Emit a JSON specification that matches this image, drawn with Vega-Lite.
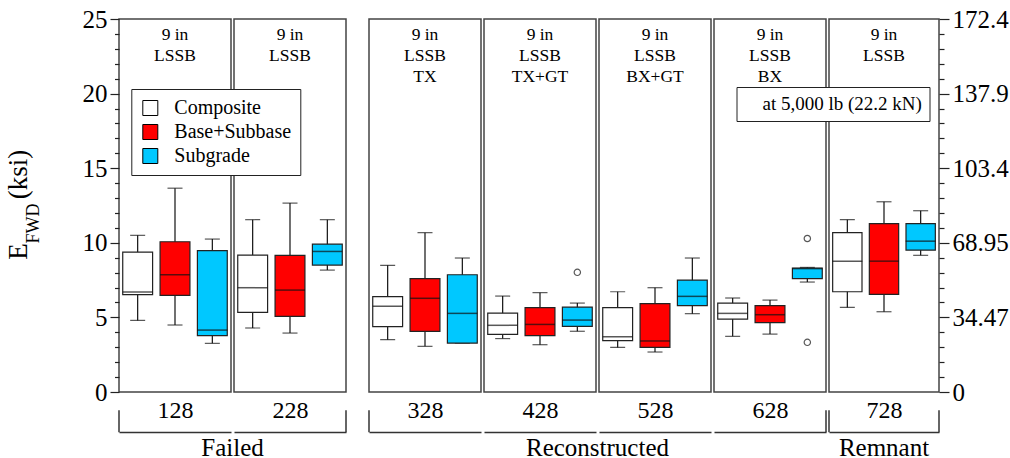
{
  "$schema": "https://vega.github.io/schema/vega-lite/v6.json",
  "padding": {"left": 3, "top": 6, "right": 2, "bottom": 0},
  "config": {
    "font": "Liberation Serif",
    "view": {"stroke": "#444", "strokeWidth": 1.5},
    "axis": {"grid": false, "labelFont": "Liberation Serif", "titleFont": "Liberation Serif"},
    "legend": {"labelFont": "Liberation Serif", "titleFont": "Liberation Serif"},
    "text": {"font": "Liberation Serif"},
    "mark": {"font": "Liberation Serif"}
  },
  "datasets": {
    "stats": [
      {"panel": "128", "layer": "Composite", "min": 4.80, "q1": 6.52, "median": 6.70, "q3": 9.38, "max": 10.50},
      {"panel": "128", "layer": "Base+Subbase", "min": 4.49, "q1": 6.48, "median": 7.86, "q3": 10.07, "max": 13.66},
      {"panel": "128", "layer": "Subgrade", "min": 3.26, "q1": 3.78, "median": 4.15, "q3": 9.47, "max": 10.25},
      {"panel": "228", "layer": "Composite", "min": 4.29, "q1": 5.34, "median": 6.99, "q3": 9.18, "max": 11.55},
      {"panel": "228", "layer": "Base+Subbase", "min": 3.95, "q1": 5.07, "median": 6.83, "q3": 9.16, "max": 12.66},
      {"panel": "228", "layer": "Subgrade", "min": 8.17, "q1": 8.51, "median": 9.42, "q3": 9.91, "max": 11.55},
      {"panel": "328", "layer": "Composite", "min": 3.51, "q1": 4.38, "median": 5.74, "q3": 6.39, "max": 8.49},
      {"panel": "328", "layer": "Base+Subbase", "min": 3.06, "q1": 4.07, "median": 6.28, "q3": 7.60, "max": 10.68},
      {"panel": "328", "layer": "Subgrade", "min": 3.28, "q1": 3.28, "median": 5.27, "q3": 7.86, "max": 8.98},
      {"panel": "428", "layer": "Composite", "min": 3.58, "q1": 3.86, "median": 4.47, "q3": 5.29, "max": 6.43},
      {"panel": "428", "layer": "Base+Subbase", "min": 3.17, "q1": 3.78, "median": 4.53, "q3": 5.65, "max": 6.66},
      {"panel": "428", "layer": "Subgrade", "min": 4.07, "q1": 4.40, "median": 4.82, "q3": 5.69, "max": 5.96},
      {"panel": "528", "layer": "Composite", "min": 2.99, "q1": 3.44, "median": 3.71, "q3": 5.65, "max": 6.72},
      {"panel": "528", "layer": "Base+Subbase", "min": 2.68, "q1": 2.99, "median": 3.42, "q3": 5.92, "max": 6.99},
      {"panel": "528", "layer": "Subgrade", "min": 5.25, "q1": 5.79, "median": 6.41, "q3": 7.50, "max": 8.98},
      {"panel": "628", "layer": "Composite", "min": 3.73, "q1": 4.89, "median": 5.27, "q3": 5.96, "max": 6.30},
      {"panel": "628", "layer": "Base+Subbase", "min": 3.88, "q1": 4.65, "median": 5.18, "q3": 5.79, "max": 6.16},
      {"panel": "628", "layer": "Subgrade", "min": 7.37, "q1": 7.60, "median": 8.27, "q3": 8.31, "max": 8.35},
      {"panel": "728", "layer": "Composite", "min": 5.67, "q1": 6.72, "median": 8.77, "q3": 10.68, "max": 11.55},
      {"panel": "728", "layer": "Base+Subbase", "min": 5.38, "q1": 6.54, "median": 8.77, "q3": 11.28, "max": 12.75},
      {"panel": "728", "layer": "Subgrade", "min": 9.16, "q1": 9.51, "median": 10.11, "q3": 11.28, "max": 12.15}
    ],
    "outliers": [
      {"panel": "428", "layer": "Subgrade", "value": 8.02},
      {"panel": "628", "layer": "Subgrade", "value": 10.29},
      {"panel": "628", "layer": "Subgrade", "value": 3.33}
    ],
    "panels": [
      {"panel": "128", "label": "9 in\nLSSB", "group": "Failed"},
      {"panel": "228", "label": "9 in\nLSSB", "group": "Failed"},
      {"panel": "328", "label": "9 in\nLSSB\nTX", "group": "Reconstructed"},
      {"panel": "428", "label": "9 in\nLSSB\nTX+GT", "group": "Reconstructed"},
      {"panel": "528", "label": "9 in\nLSSB\nBX+GT", "group": "Reconstructed"},
      {"panel": "628", "label": "9 in\nLSSB\nBX", "group": "Reconstructed"},
      {"panel": "728", "label": "9 in\nLSSB", "group": "Remnant"}
    ]
  },
  "bounds": "flush",
  "spacing": 3,
  "hconcat": [
    {
      "width": 112, "height": 373,
      "resolve": {"axis": {"y": "independent"}},
      "layer": [
        {"data": {"name": "stats"}, "transform": [{"filter": "datum.panel === '128'"}],
         "mark": {"type": "rule", "color": "#111", "strokeWidth": 1.2},
         "encoding": {
           "x": {"field": "layer", "type": "nominal", "scale": {"domain": ["Composite", "Base+Subbase", "Subgrade"], "paddingInner": 0, "paddingOuter": 0},
                 "axis": {"orient": "bottom", "offset": 40, "domain": true, "domainColor": "#333", "domainWidth": 1.5, "ticks": false, "labels": false, "title": "128", "titleFontSize": 24, "titleFontWeight": "normal", "titleColor": "black", "titleY": -14.7, "titleBaseline": "alphabetic"}},
           "y": {"field": "min", "type": "quantitative", "scale": {"domain": [0, 25], "nice": false, "zero": false},
                 "axis": {"orient": "left", "values": [0,1,2,3,4,5,6,7,8,9,10,11,12,13,14,15,16,17,18,19,20,21,22,23,24,25], "labelExpr": "datum.value % 5 === 0 ? datum.label : ''", "tickSize": {"condition": {"test": "datum.value % 5 === 0", "value": 9}, "value": 4.5}, "tickColor": "#222", "tickWidth": 1.2, "domain": false, "labelFontSize": 25, "labelColor": "black", "labelPadding": 3, "labelOverlap": false, "labelFlush": false, "labelBound": false, "title": "E", "titleFontSize": 27, "titleFontWeight": "normal", "titleColor": "black", "titleAngle": 270, "titleX": -92.7, "titleY": 232, "titleAlign": "center", "titleBaseline": "alphabetic"}},
           "y2": {"field": "max"}
         }},
        {"data": {"name": "stats"}, "transform": [{"filter": "datum.panel === '128'"}],
         "mark": {"type": "tick", "size": 15, "thickness": 1.2, "color": "#111"},
         "encoding": {"x": {"field": "layer", "type": "nominal"}, "y": {"field": "min", "type": "quantitative", "axis": null}}},
        {"data": {"name": "stats"}, "transform": [{"filter": "datum.panel === '128'"}],
         "mark": {"type": "tick", "size": 15, "thickness": 1.2, "color": "#111"},
         "encoding": {"x": {"field": "layer", "type": "nominal"}, "y": {"field": "max", "type": "quantitative", "axis": null}}},
        {"data": {"name": "stats"}, "transform": [{"filter": "datum.panel === '128'"}],
         "mark": {"type": "bar", "width": {"band": 0.8}, "stroke": "#222", "strokeWidth": 1.2, "opacity": 1},
         "encoding": {
           "x": {"field": "layer", "type": "nominal"},
           "y": {"field": "q1", "type": "quantitative",
                 "axis": {"orient": "left", "ticks": false, "labels": false, "domain": false, "title": "FWD", "titleFontSize": 18, "titleFontWeight": "normal", "titleColor": "black", "titleAngle": 270, "titleX": -80.7, "titleY": 204, "titleAlign": "center", "titleBaseline": "alphabetic"}},
           "y2": {"field": "q3"},
           "color": {"field": "layer", "type": "nominal", "scale": {"domain": ["Composite", "Base+Subbase", "Subgrade"], "range": ["#ffffff", "#ff0000", "#00c8ff"]},
                     "legend": {"orient": "none", "legendX": 12.3, "legendY": 70, "title": null, "fillColor": "white", "strokeColor": "#222", "padding": 9, "symbolType": "square", "symbolSize": 225, "symbolStrokeColor": "black", "symbolStrokeWidth": 1, "symbolOpacity": 1, "labelFont": "Liberation Serif", "labelFontSize": 20, "labelColor": "black", "labelOffset": 14, "rowPadding": 4}}
         }},
        {"data": {"name": "stats"}, "transform": [{"filter": "datum.panel === '128'"}],
         "mark": {"type": "tick", "size": 30, "thickness": 1.5, "color": "#111"},
         "encoding": {"x": {"field": "layer", "type": "nominal"},
           "y": {"field": "median", "type": "quantitative",
                 "axis": {"orient": "left", "ticks": false, "labels": false, "domain": false, "title": "(ksi)", "titleFontSize": 27, "titleFontWeight": "normal", "titleColor": "black", "titleAngle": 270, "titleX": -92.7, "titleY": 155, "titleAlign": "center", "titleBaseline": "alphabetic"}}}},
        {"data": {"name": "panels"}, "transform": [{"filter": "datum.panel === '128'"}],
         "mark": {"type": "text", "font": "Liberation Serif", "fontSize": 17.5, "baseline": "alphabetic", "lineBreak": "\n", "lineHeight": 21.3, "color": "black"},
         "encoding": {"x": {"datum": "Base+Subbase", "bandPosition": 0.5}, "y": {"datum": 23.6, "axis": null}, "text": {"field": "label"}}},
        {"data": {"name": "panels"}, "transform": [{"filter": "datum.panel === '128'"}],
         "mark": {"type": "rule", "color": "#333", "strokeWidth": 1.5},
         "encoding": {"x": {"datum": "Composite", "bandPosition": 0}, "y": {"datum": -1.23, "axis": null}, "y2": {"datum": -2.7}}},
        {"data": {"name": "panels"}, "transform": [{"filter": "datum.panel === '128'"}],
         "mark": {"type": "text", "font": "Liberation Serif", "fontSize": 25, "baseline": "alphabetic", "dx": 1.5, "color": "black"},
         "encoding": {"x": {"datum": "Subgrade", "bandPosition": 1}, "y": {"datum": -4.3, "axis": null}, "text": {"field": "group"}}}
      ]
    },
    {
      "width": 112, "height": 373,
      "layer": [
        {"data": {"name": "stats"}, "transform": [{"filter": "datum.panel === '228'"}],
         "mark": {"type": "rule", "color": "#111", "strokeWidth": 1.2},
         "encoding": {
           "x": {"field": "layer", "type": "nominal", "scale": {"domain": ["Composite", "Base+Subbase", "Subgrade"], "paddingInner": 0, "paddingOuter": 0},
                 "axis": {"orient": "bottom", "offset": 40, "domain": true, "domainColor": "#333", "domainWidth": 1.5, "ticks": false, "labels": false, "title": "228", "titleFontSize": 24, "titleFontWeight": "normal", "titleColor": "black", "titleY": -14.7, "titleBaseline": "alphabetic"}},
           "y": {"field": "min", "type": "quantitative", "scale": {"domain": [0, 25], "nice": false, "zero": false}, "axis": null},
           "y2": {"field": "max"}
         }},
        {"data": {"name": "stats"}, "transform": [{"filter": "datum.panel === '228'"}],
         "mark": {"type": "tick", "size": 15, "thickness": 1.2, "color": "#111"},
         "encoding": {"x": {"field": "layer", "type": "nominal"}, "y": {"field": "min", "type": "quantitative", "axis": null}}},
        {"data": {"name": "stats"}, "transform": [{"filter": "datum.panel === '228'"}],
         "mark": {"type": "tick", "size": 15, "thickness": 1.2, "color": "#111"},
         "encoding": {"x": {"field": "layer", "type": "nominal"}, "y": {"field": "max", "type": "quantitative", "axis": null}}},
        {"data": {"name": "stats"}, "transform": [{"filter": "datum.panel === '228'"}],
         "mark": {"type": "bar", "width": {"band": 0.8}, "stroke": "#222", "strokeWidth": 1.2, "opacity": 1},
         "encoding": {"x": {"field": "layer", "type": "nominal"}, "y": {"field": "q1", "type": "quantitative", "axis": null}, "y2": {"field": "q3"},
           "color": {"field": "layer", "type": "nominal", "legend": null}}},
        {"data": {"name": "stats"}, "transform": [{"filter": "datum.panel === '228'"}],
         "mark": {"type": "tick", "size": 30, "thickness": 1.5, "color": "#111"},
         "encoding": {"x": {"field": "layer", "type": "nominal"}, "y": {"field": "median", "type": "quantitative", "axis": null}}},
        {"data": {"name": "panels"}, "transform": [{"filter": "datum.panel === '228'"}],
         "mark": {"type": "text", "font": "Liberation Serif", "fontSize": 17.5, "baseline": "alphabetic", "lineBreak": "\n", "lineHeight": 21.3, "color": "black"},
         "encoding": {"x": {"datum": "Base+Subbase", "bandPosition": 0.5}, "y": {"datum": 23.6, "axis": null}, "text": {"field": "label"}}},
        {"data": {"name": "panels"}, "transform": [{"filter": "datum.panel === '228'"}],
         "mark": {"type": "rule", "color": "#333", "strokeWidth": 1.5},
         "encoding": {"x": {"datum": "Subgrade", "bandPosition": 1}, "y": {"datum": -1.23, "axis": null}, "y2": {"datum": -2.7}}}
      ]
    },
    {
      "width": 16.6, "height": 373,
      "view": {"stroke": null},
      "data": {"values": [{}]},
      "mark": {"type": "text", "text": ""},
      "encoding": {}
    },
    {
      "width": 112, "height": 373,
      "layer": [
        {"data": {"name": "stats"}, "transform": [{"filter": "datum.panel === '328'"}],
         "mark": {"type": "rule", "color": "#111", "strokeWidth": 1.2},
         "encoding": {
           "x": {"field": "layer", "type": "nominal", "scale": {"domain": ["Composite", "Base+Subbase", "Subgrade"], "paddingInner": 0, "paddingOuter": 0},
                 "axis": {"orient": "bottom", "offset": 40, "domain": true, "domainColor": "#333", "domainWidth": 1.5, "ticks": false, "labels": false, "title": "328", "titleFontSize": 24, "titleFontWeight": "normal", "titleColor": "black", "titleY": -14.7, "titleBaseline": "alphabetic"}},
           "y": {"field": "min", "type": "quantitative", "scale": {"domain": [0, 25], "nice": false, "zero": false}, "axis": null},
           "y2": {"field": "max"}
         }},
        {"data": {"name": "stats"}, "transform": [{"filter": "datum.panel === '328'"}],
         "mark": {"type": "tick", "size": 15, "thickness": 1.2, "color": "#111"},
         "encoding": {"x": {"field": "layer", "type": "nominal"}, "y": {"field": "min", "type": "quantitative", "axis": null}}},
        {"data": {"name": "stats"}, "transform": [{"filter": "datum.panel === '328'"}],
         "mark": {"type": "tick", "size": 15, "thickness": 1.2, "color": "#111"},
         "encoding": {"x": {"field": "layer", "type": "nominal"}, "y": {"field": "max", "type": "quantitative", "axis": null}}},
        {"data": {"name": "stats"}, "transform": [{"filter": "datum.panel === '328'"}],
         "mark": {"type": "bar", "width": {"band": 0.8}, "stroke": "#222", "strokeWidth": 1.2, "opacity": 1},
         "encoding": {"x": {"field": "layer", "type": "nominal"}, "y": {"field": "q1", "type": "quantitative", "axis": null}, "y2": {"field": "q3"},
           "color": {"field": "layer", "type": "nominal", "legend": null}}},
        {"data": {"name": "stats"}, "transform": [{"filter": "datum.panel === '328'"}],
         "mark": {"type": "tick", "size": 30, "thickness": 1.5, "color": "#111"},
         "encoding": {"x": {"field": "layer", "type": "nominal"}, "y": {"field": "median", "type": "quantitative", "axis": null}}},
        {"data": {"name": "panels"}, "transform": [{"filter": "datum.panel === '328'"}],
         "mark": {"type": "text", "font": "Liberation Serif", "fontSize": 17.5, "baseline": "alphabetic", "lineBreak": "\n", "lineHeight": 21.3, "color": "black"},
         "encoding": {"x": {"datum": "Base+Subbase", "bandPosition": 0.5}, "y": {"datum": 23.6, "axis": null}, "text": {"field": "label"}}},
        {"data": {"name": "panels"}, "transform": [{"filter": "datum.panel === '328'"}],
         "mark": {"type": "rule", "color": "#333", "strokeWidth": 1.5},
         "encoding": {"x": {"datum": "Composite", "bandPosition": 0}, "y": {"datum": -1.23, "axis": null}, "y2": {"datum": -2.7}}}
      ]
    },
    {
      "width": 112, "height": 373,
      "layer": [
        {"data": {"name": "stats"}, "transform": [{"filter": "datum.panel === '428'"}],
         "mark": {"type": "rule", "color": "#111", "strokeWidth": 1.2},
         "encoding": {
           "x": {"field": "layer", "type": "nominal", "scale": {"domain": ["Composite", "Base+Subbase", "Subgrade"], "paddingInner": 0, "paddingOuter": 0},
                 "axis": {"orient": "bottom", "offset": 40, "domain": true, "domainColor": "#333", "domainWidth": 1.5, "ticks": false, "labels": false, "title": "428", "titleFontSize": 24, "titleFontWeight": "normal", "titleColor": "black", "titleY": -14.7, "titleBaseline": "alphabetic"}},
           "y": {"field": "min", "type": "quantitative", "scale": {"domain": [0, 25], "nice": false, "zero": false}, "axis": null},
           "y2": {"field": "max"}
         }},
        {"data": {"name": "stats"}, "transform": [{"filter": "datum.panel === '428'"}],
         "mark": {"type": "tick", "size": 15, "thickness": 1.2, "color": "#111"},
         "encoding": {"x": {"field": "layer", "type": "nominal"}, "y": {"field": "min", "type": "quantitative", "axis": null}}},
        {"data": {"name": "stats"}, "transform": [{"filter": "datum.panel === '428'"}],
         "mark": {"type": "tick", "size": 15, "thickness": 1.2, "color": "#111"},
         "encoding": {"x": {"field": "layer", "type": "nominal"}, "y": {"field": "max", "type": "quantitative", "axis": null}}},
        {"data": {"name": "stats"}, "transform": [{"filter": "datum.panel === '428'"}],
         "mark": {"type": "bar", "width": {"band": 0.8}, "stroke": "#222", "strokeWidth": 1.2, "opacity": 1},
         "encoding": {"x": {"field": "layer", "type": "nominal"}, "y": {"field": "q1", "type": "quantitative", "axis": null}, "y2": {"field": "q3"},
           "color": {"field": "layer", "type": "nominal", "legend": null}}},
        {"data": {"name": "stats"}, "transform": [{"filter": "datum.panel === '428'"}],
         "mark": {"type": "tick", "size": 30, "thickness": 1.5, "color": "#111"},
         "encoding": {"x": {"field": "layer", "type": "nominal"}, "y": {"field": "median", "type": "quantitative", "axis": null}}},
        {"data": {"name": "outliers"}, "transform": [{"filter": "datum.panel === '428'"}],
         "mark": {"type": "point", "filled": false, "stroke": "#111", "strokeWidth": 1.2, "size": 40},
         "encoding": {"x": {"field": "layer", "type": "nominal"}, "y": {"field": "value", "type": "quantitative", "axis": null}}},
        {"data": {"name": "panels"}, "transform": [{"filter": "datum.panel === '428'"}],
         "mark": {"type": "text", "font": "Liberation Serif", "fontSize": 17.5, "baseline": "alphabetic", "lineBreak": "\n", "lineHeight": 21.3, "color": "black"},
         "encoding": {"x": {"datum": "Base+Subbase", "bandPosition": 0.5}, "y": {"datum": 23.6, "axis": null}, "text": {"field": "label"}}},
        {"data": {"name": "panels"}, "transform": [{"filter": "datum.panel === '428'"}],
         "mark": {"type": "text", "font": "Liberation Serif", "fontSize": 25, "baseline": "alphabetic", "dx": 1.5, "color": "black"},
         "encoding": {"x": {"datum": "Subgrade", "bandPosition": 1}, "y": {"datum": -4.3, "axis": null}, "text": {"field": "group"}}}
      ]
    },
    {
      "width": 112, "height": 373,
      "layer": [
        {"data": {"name": "stats"}, "transform": [{"filter": "datum.panel === '528'"}],
         "mark": {"type": "rule", "color": "#111", "strokeWidth": 1.2},
         "encoding": {
           "x": {"field": "layer", "type": "nominal", "scale": {"domain": ["Composite", "Base+Subbase", "Subgrade"], "paddingInner": 0, "paddingOuter": 0},
                 "axis": {"orient": "bottom", "offset": 40, "domain": true, "domainColor": "#333", "domainWidth": 1.5, "ticks": false, "labels": false, "title": "528", "titleFontSize": 24, "titleFontWeight": "normal", "titleColor": "black", "titleY": -14.7, "titleBaseline": "alphabetic"}},
           "y": {"field": "min", "type": "quantitative", "scale": {"domain": [0, 25], "nice": false, "zero": false}, "axis": null},
           "y2": {"field": "max"}
         }},
        {"data": {"name": "stats"}, "transform": [{"filter": "datum.panel === '528'"}],
         "mark": {"type": "tick", "size": 15, "thickness": 1.2, "color": "#111"},
         "encoding": {"x": {"field": "layer", "type": "nominal"}, "y": {"field": "min", "type": "quantitative", "axis": null}}},
        {"data": {"name": "stats"}, "transform": [{"filter": "datum.panel === '528'"}],
         "mark": {"type": "tick", "size": 15, "thickness": 1.2, "color": "#111"},
         "encoding": {"x": {"field": "layer", "type": "nominal"}, "y": {"field": "max", "type": "quantitative", "axis": null}}},
        {"data": {"name": "stats"}, "transform": [{"filter": "datum.panel === '528'"}],
         "mark": {"type": "bar", "width": {"band": 0.8}, "stroke": "#222", "strokeWidth": 1.2, "opacity": 1},
         "encoding": {"x": {"field": "layer", "type": "nominal"}, "y": {"field": "q1", "type": "quantitative", "axis": null}, "y2": {"field": "q3"},
           "color": {"field": "layer", "type": "nominal", "legend": null}}},
        {"data": {"name": "stats"}, "transform": [{"filter": "datum.panel === '528'"}],
         "mark": {"type": "tick", "size": 30, "thickness": 1.5, "color": "#111"},
         "encoding": {"x": {"field": "layer", "type": "nominal"}, "y": {"field": "median", "type": "quantitative", "axis": null}}},
        {"data": {"name": "panels"}, "transform": [{"filter": "datum.panel === '528'"}],
         "mark": {"type": "text", "font": "Liberation Serif", "fontSize": 17.5, "baseline": "alphabetic", "lineBreak": "\n", "lineHeight": 21.3, "color": "black"},
         "encoding": {"x": {"datum": "Base+Subbase", "bandPosition": 0.5}, "y": {"datum": 23.6, "axis": null}, "text": {"field": "label"}}}
      ]
    },
    {
      "width": 112, "height": 373,
      "layer": [
        {"data": {"name": "stats"}, "transform": [{"filter": "datum.panel === '628'"}],
         "mark": {"type": "rule", "color": "#111", "strokeWidth": 1.2},
         "encoding": {
           "x": {"field": "layer", "type": "nominal", "scale": {"domain": ["Composite", "Base+Subbase", "Subgrade"], "paddingInner": 0, "paddingOuter": 0},
                 "axis": {"orient": "bottom", "offset": 40, "domain": true, "domainColor": "#333", "domainWidth": 1.5, "ticks": false, "labels": false, "title": "628", "titleFontSize": 24, "titleFontWeight": "normal", "titleColor": "black", "titleY": -14.7, "titleBaseline": "alphabetic"}},
           "y": {"field": "min", "type": "quantitative", "scale": {"domain": [0, 25], "nice": false, "zero": false}, "axis": null},
           "y2": {"field": "max"}
         }},
        {"data": {"name": "stats"}, "transform": [{"filter": "datum.panel === '628'"}],
         "mark": {"type": "tick", "size": 15, "thickness": 1.2, "color": "#111"},
         "encoding": {"x": {"field": "layer", "type": "nominal"}, "y": {"field": "min", "type": "quantitative", "axis": null}}},
        {"data": {"name": "stats"}, "transform": [{"filter": "datum.panel === '628'"}],
         "mark": {"type": "tick", "size": 15, "thickness": 1.2, "color": "#111"},
         "encoding": {"x": {"field": "layer", "type": "nominal"}, "y": {"field": "max", "type": "quantitative", "axis": null}}},
        {"data": {"name": "stats"}, "transform": [{"filter": "datum.panel === '628'"}],
         "mark": {"type": "bar", "width": {"band": 0.8}, "stroke": "#222", "strokeWidth": 1.2, "opacity": 1},
         "encoding": {"x": {"field": "layer", "type": "nominal"}, "y": {"field": "q1", "type": "quantitative", "axis": null}, "y2": {"field": "q3"},
           "color": {"field": "layer", "type": "nominal", "legend": null}}},
        {"data": {"name": "stats"}, "transform": [{"filter": "datum.panel === '628'"}],
         "mark": {"type": "tick", "size": 30, "thickness": 1.5, "color": "#111"},
         "encoding": {"x": {"field": "layer", "type": "nominal"}, "y": {"field": "median", "type": "quantitative", "axis": null}}},
        {"data": {"name": "outliers"}, "transform": [{"filter": "datum.panel === '628'"}],
         "mark": {"type": "point", "filled": false, "stroke": "#111", "strokeWidth": 1.2, "size": 40},
         "encoding": {"x": {"field": "layer", "type": "nominal"}, "y": {"field": "value", "type": "quantitative", "axis": null}}},
        {"data": {"name": "panels"}, "transform": [{"filter": "datum.panel === '628'"}],
         "mark": {"type": "text", "font": "Liberation Serif", "fontSize": 17.5, "baseline": "alphabetic", "lineBreak": "\n", "lineHeight": 21.3, "color": "black"},
         "encoding": {"x": {"datum": "Base+Subbase", "bandPosition": 0.5}, "y": {"datum": 23.6, "axis": null}, "text": {"field": "label"}}},
        {"data": {"name": "panels"}, "transform": [{"filter": "datum.panel === '628'"}],
         "mark": {"type": "rule", "color": "#333", "strokeWidth": 1.5},
         "encoding": {"x": {"datum": "Subgrade", "bandPosition": 1}, "y": {"datum": -1.23, "axis": null}, "y2": {"datum": -2.7}}}
      ]
    },
    {
      "width": 110, "height": 373,
      "resolve": {"axis": {"y": "independent"}},
      "layer": [
        {"data": {"name": "stats"}, "transform": [{"filter": "datum.panel === '728'"}],
         "mark": {"type": "rule", "color": "#111", "strokeWidth": 1.2},
         "encoding": {
           "x": {"field": "layer", "type": "nominal", "scale": {"domain": ["Composite", "Base+Subbase", "Subgrade"], "paddingInner": 0, "paddingOuter": 0},
                 "axis": {"orient": "bottom", "offset": 40, "domain": true, "domainColor": "#333", "domainWidth": 1.5, "ticks": false, "labels": false, "title": "728", "titleFontSize": 24, "titleFontWeight": "normal", "titleColor": "black", "titleY": -14.7, "titleBaseline": "alphabetic"}},
           "y": {"field": "min", "type": "quantitative", "scale": {"domain": [0, 25], "nice": false, "zero": false},
                 "axis": {"orient": "right", "values": [0,1,2,3,4,5,6,7,8,9,10,11,12,13,14,15,16,17,18,19,20,21,22,23,24,25], "labelExpr": "datum.value % 5 === 0 ? ['0','34.47','68.95','103.4','137.9','172.4'][datum.value / 5] : ''", "tickSize": {"condition": {"test": "datum.value % 5 === 0", "value": 10}, "value": 5}, "tickColor": "#222", "tickWidth": 1.2, "domain": false, "labelFontSize": 25, "labelColor": "black", "labelPadding": 3, "labelOverlap": false, "labelFlush": false, "labelBound": false, "title": null}},
           "y2": {"field": "max"}
         }},
        {"data": {"name": "stats"}, "transform": [{"filter": "datum.panel === '728'"}],
         "mark": {"type": "tick", "size": 15, "thickness": 1.2, "color": "#111"},
         "encoding": {"x": {"field": "layer", "type": "nominal"}, "y": {"field": "min", "type": "quantitative", "axis": null}}},
        {"data": {"name": "stats"}, "transform": [{"filter": "datum.panel === '728'"}],
         "mark": {"type": "tick", "size": 15, "thickness": 1.2, "color": "#111"},
         "encoding": {"x": {"field": "layer", "type": "nominal"}, "y": {"field": "max", "type": "quantitative", "axis": null}}},
        {"data": {"name": "stats"}, "transform": [{"filter": "datum.panel === '728'"}],
         "mark": {"type": "bar", "width": {"band": 0.8}, "stroke": "#222", "strokeWidth": 1.2, "opacity": 1},
         "encoding": {"x": {"field": "layer", "type": "nominal"}, "y": {"field": "q1", "type": "quantitative", "axis": null}, "y2": {"field": "q3"},
           "color": {"field": "layer", "type": "nominal", "legend": null}}},
        {"data": {"name": "stats"}, "transform": [{"filter": "datum.panel === '728'"}],
         "mark": {"type": "tick", "size": 30, "thickness": 1.5, "color": "#111"},
         "encoding": {"x": {"field": "layer", "type": "nominal"}, "y": {"field": "median", "type": "quantitative", "axis": null}}},
        {"data": {"name": "panels"}, "transform": [{"filter": "datum.panel === '728'"}],
         "mark": {"type": "text", "font": "Liberation Serif", "fontSize": 17.5, "baseline": "alphabetic", "lineBreak": "\n", "lineHeight": 21.3, "color": "black"},
         "encoding": {"x": {"datum": "Base+Subbase", "bandPosition": 0.5}, "y": {"datum": 23.6, "axis": null}, "text": {"field": "label"}}},
        {"data": {"name": "panels"}, "transform": [{"filter": "datum.panel === '728'"}],
         "mark": {"type": "rule", "color": "#333", "strokeWidth": 1.5},
         "encoding": {"x": {"datum": "Composite", "bandPosition": 0}, "y": {"datum": -1.23, "axis": null}, "y2": {"datum": -2.7}}},
        {"data": {"name": "panels"}, "transform": [{"filter": "datum.panel === '728'"}],
         "mark": {"type": "rule", "color": "#333", "strokeWidth": 1.5},
         "encoding": {"x": {"datum": "Subgrade", "bandPosition": 1}, "y": {"datum": -1.23, "axis": null}, "y2": {"datum": -2.7}}},
        {"data": {"name": "panels"}, "transform": [{"filter": "datum.panel === '728'"}],
         "mark": {"type": "text", "font": "Liberation Serif", "fontSize": 25, "baseline": "alphabetic", "color": "black"},
         "encoding": {"x": {"datum": "Base+Subbase", "bandPosition": 0.5}, "y": {"datum": -4.3, "axis": null}, "text": {"field": "group"}}},
        {"data": {"name": "panels"}, "transform": [{"filter": "datum.panel === '728'"}],
         "mark": {"type": "point", "opacity": 0, "size": 0},
         "encoding": {"x": {"datum": "Composite"}, "y": {"datum": 5, "axis": null},
           "shape": {"datum": "at 5,000 lb (22.2 kN)", "type": "nominal",
                     "legend": {"orient": "none", "legendX": 617.5, "legendY": 68, "title": null, "fillColor": "white", "strokeColor": "#222", "padding": 7, "symbolSize": 0, "symbolOpacity": 0, "symbolStrokeWidth": 0, "labelOffset": 0, "labelLimit": 400, "labelFont": "Liberation Serif", "labelFontSize": 19, "labelColor": "black"}}}}
      ]
    }
  ]
}
